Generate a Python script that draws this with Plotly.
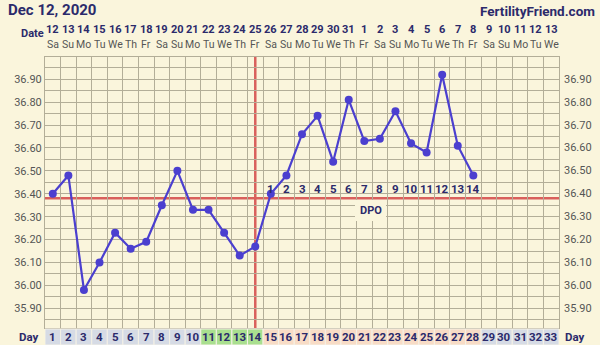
import plotly.graph_objects as go

# ---------------- data ----------------
days = list(range(1, 34))
temp_days = list(range(1, 29))
temps = [36.40, 36.48, 35.98, 36.10, 36.23, 36.16, 36.19, 36.35, 36.50, 36.33,
         36.33, 36.23, 36.13, 36.17, 36.40, 36.48, 36.66, 36.74, 36.54, 36.81,
         36.63, 36.64, 36.76, 36.62, 36.58, 36.92, 36.61, 36.48]
date_labels = ["12", "13", "14", "15", "16", "17", "18", "19", "20", "21", "22",
               "23", "24", "25", "26", "27", "28", "29", "30", "31", "1", "2",
               "3", "4", "5", "6", "7", "8", "9", "10", "11", "12", "13"]
weekday_labels = ["Sa", "Su", "Mo", "Tu", "We", "Th", "Fr"] * 4 + ["Sa", "Su", "Mo", "Tu", "We"]
y_ticks = [35.90, 36.00, 36.10, 36.20, 36.30, 36.40, 36.50, 36.60, 36.70, 36.80, 36.90]
coverline = 36.38
ovulation_day = 14
dpo_days = list(range(15, 29))
dpo_labels = [str(i) for i in range(1, 15)]
fertile_days = [11, 12, 13, 14]
luteal_days = list(range(15, 29))

# ---------------- styling ----------------
W, H = 600, 345
PLOT_TOP, PLOT_BOT, PLOT_L, PLOT_R = 57, 328, 45, 559
BG = "#faf5dc"
GRID = "#b3ae98"
NAVY = "#2b2a6b"
LINE = "#4b3fcf"
RED = "#d9605c"
FONT = "Roboto"

YMIN, YMAX = 35.814, 36.997


def py(pix):
    """pixel row -> paper y"""
    return (PLOT_BOT - pix) / (PLOT_BOT - PLOT_TOP)


def px(pix):
    return (pix - PLOT_L) / (PLOT_R - PLOT_L)


fig = go.Figure()
fig.add_trace(go.Scatter(
    x=temp_days, y=temps, mode="lines+markers",
    line=dict(color=LINE, width=2.2),
    marker=dict(color=LINE, size=8),
    hoverinfo="skip", showlegend=False, cliponaxis=False,
))

shapes = []
# coverline
shapes.append(dict(type="line", xref="paper", yref="y", x0=0, x1=1, y0=coverline, y1=coverline,
                   line=dict(color=RED, width=2.5), layer="below"))
# ovulation line
shapes.append(dict(type="line", xref="x", yref="paper", x0=ovulation_day, x1=ovulation_day, y0=0, y1=1,
                   line=dict(color=RED, width=2.5), layer="below"))
# DPO label box (covers the grid)
shapes.append(dict(type="rect", xref="paper", yref="paper", x0=px(355), x1=px(386),
                   y0=py(221), y1=py(200), fillcolor=BG, line=dict(width=0), layer="above"))

# Day row cells
for d in days:
    if d in fertile_days:
        col = "#a9df8f"
    elif d in luteal_days:
        col = "#f8dcc6"
    else:
        col = "#d6dbe5"
    shapes.append(dict(type="rect", xref="x", yref="paper", x0=d - 0.5, x1=d + 0.5,
                       y0=py(H), y1=py(PLOT_BOT + 1), fillcolor=col,
                       line=dict(color="#f4f1e6", width=1), layer="above"))

annotations = []
# title texts
annotations.append(dict(text="<b>Dec 12, 2020</b>", xref="paper", yref="paper", x=px(6),
                        y=py(10), xanchor="left", yanchor="middle", showarrow=False,
                        font=dict(family=FONT, size=15, color=NAVY)))
annotations.append(dict(text="<b>FertilityFriend.com</b>", xref="paper", yref="paper",
                        x=px(597), y=py(11), xanchor="right", yanchor="middle",
                        showarrow=False, font=dict(family=FONT, size=13.5, color=NAVY)))
annotations.append(dict(text="<b>Date</b>", xref="paper", yref="paper", x=px(32),
                        y=py(33), xanchor="center", yanchor="middle", showarrow=False,
                        font=dict(family=FONT, size=11, color=NAVY)))
for d, lab in zip(days, date_labels):
    annotations.append(dict(text=f"<b>{lab}</b>", xref="x", yref="paper", x=d, y=py(29),
                            xanchor="center", yanchor="middle", showarrow=False,
                            font=dict(family=FONT, size=11, color=NAVY)))
for d, lab in zip(days, weekday_labels):
    annotations.append(dict(text=lab, xref="x", yref="paper", x=d, y=py(44),
                            xanchor="center", yanchor="middle", showarrow=False,
                            font=dict(family=FONT, size=10.5, color="#555555")))
# Day row labels
for d in days:
    annotations.append(dict(text=f"<b>{d}</b>", xref="x", yref="paper", x=d, y=py(337),
                            xanchor="center", yanchor="middle", showarrow=False,
                            font=dict(family=FONT, size=11.5, color=NAVY)))
annotations.append(dict(text="<b>Day</b>", xref="paper", yref="paper", x=px(41),
                        y=py(337), xanchor="right", yanchor="middle", showarrow=False,
                        font=dict(family=FONT, size=11.5, color=NAVY)))
annotations.append(dict(text="<b>Day</b>", xref="paper", yref="paper", x=px(563),
                        y=py(337), xanchor="left", yanchor="middle", showarrow=False,
                        font=dict(family=FONT, size=11.5, color=NAVY)))
# right-side tick labels
for t in y_ticks:
    annotations.append(dict(text=f"{t:.2f}", xref="paper", yref="y", x=px(562),
                            y=t, xanchor="left", yanchor="middle", showarrow=False,
                            font=dict(family=FONT, size=11, color="#555555")))
# DPO numbers
for d, lab in zip(dpo_days, dpo_labels):
    annotations.append(dict(text=f"<b>{lab}</b>", xref="x", yref="paper", x=d, y=py(189),
                            xanchor="center", yanchor="middle", showarrow=False,
                            font=dict(family=FONT, size=11.5, color=NAVY)))
annotations.append(dict(text="<b>DPO</b>", xref="paper", yref="paper", x=px(370.5), y=py(210),
                        xanchor="center", yanchor="middle", showarrow=False,
                        font=dict(family=FONT, size=11, color=NAVY)))

fig.update_layout(
    width=W, height=H,
    margin=dict(l=PLOT_L, r=W - PLOT_R, t=PLOT_TOP, b=H - PLOT_BOT),
    paper_bgcolor=BG, plot_bgcolor=BG,
    shapes=shapes, annotations=annotations,
    xaxis=dict(range=[0.5, 33.5], tickvals=[d + 0.5 for d in range(0, 34)],
               showticklabels=False, showgrid=True, gridcolor=GRID, gridwidth=1,
               zeroline=False, showline=True, linecolor=GRID, mirror=True, ticks="",
               layer="below traces"),
    yaxis=dict(range=[YMIN, YMAX], tickvals=y_ticks, ticktext=[f"{t:.2f}" for t in y_ticks],
               showgrid=True, gridcolor=GRID, gridwidth=1, zeroline=False,
               showline=True, linecolor=GRID, mirror=True, ticks="",
               tickfont=dict(family=FONT, size=11, color="#555555"),
               minor=dict(tick0=35.85, dtick=0.1, showgrid=True, gridcolor=GRID, gridwidth=1)),
    font=dict(family=FONT),
)

fig.write_html("out.html")
